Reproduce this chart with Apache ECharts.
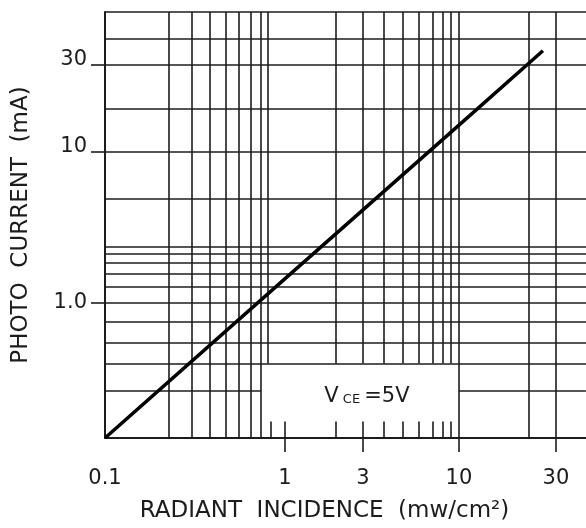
<!DOCTYPE html>
<html><head><meta charset="utf-8">
<script src="https://cdn.jsdelivr.net/npm/echarts@6/dist/echarts.min.js"></script>
<style>html,body{margin:0;padding:0;background:#fff}#c{width:586px;height:528px}</style>
</head><body><div id="c"></div>
<script>
// ---- axis ranges ----
const xMin = 0.1, xMax = 52.2;
const yMin = 0.1265, yMax = 84.3;

// ---- photo current curve (mA vs mw/cm²) ----
const curveX = [0.1, 1, 10, 29.8];
const curveY = [0.1265, 1.38, 15.0, 46.7];

// ---- tick labels ----
const xLabelValues = [0.1, 1.04, 2.87, 10, 35.3];
const xLabelTexts = ['0.1', '1', '3', '10', '30'];
const yLabelValues = [1, 10, 37.7];
const yLabelTexts = ['1.0', '10', '30'];
const yLabelRaised = [false, true, true];

// ---- grid lines (values where the printed lines sit) ----
const xGridFull = [0.230, 0.306, 0.392, 0.483, 0.571, 0.668, 0.761, 10, 24.9, 35.3];
const xGridUpper = [0.834, 2.02, 2.87, 3.77, 4.83, 5.94, 7.13, 8.12, 9.01];
const yGridFull = [56.1, 37.7, 19.2, 10, 4.84, 2.34, 2.11, 1.84, 1.56, 1.27, 1, 0.746, 0.541, 0.394];
const yGridSplit = [0.262];
const boxX = [0.761, 10];      // gap of the split line
const boxTop = 0.394;           // top of the blank legend box
const xBoxTicks = [0.866, 1.04, 2.02, 2.87, 3.77, 4.83, 5.94, 7.13, 8.12, 9.01];
const boxTickTop = 0.1625;
const xOuterTicks = [1.04, 2.87, 10, 35.3];
const noteText = { x: 3.02, y: 0.237 };

const FONT = 'DejaVu Sans';
const ink = '#1c1c1c';

function nearestIndex(list, v) {
  let b = 0, d = 1e9;
  list.forEach((t, i) => { const e = Math.abs(Math.log(t) - Math.log(v)); if (e < d) { d = e; b = i; } });
  return b;
}

const ml = [];
ml.push({ yAxis: yMax * 0.9995 });
yGridFull.forEach(v => ml.push({ yAxis: v }));
xGridFull.forEach(v => ml.push({ xAxis: v }));
xGridUpper.forEach(v => ml.push([{ coord: [v, boxTop] }, { coord: [v, yMax * 0.9995] }]));
yGridSplit.forEach(v => {
  ml.push([{ coord: [xMin * 1.0005, v] }, { coord: [boxX[0], v] }]);
  ml.push([{ coord: [boxX[1], v] }, { coord: [xMax * 0.9995, v] }]);
});
xBoxTicks.forEach(v => ml.push([{ coord: [v, yMin * 1.0005] }, { coord: [v, boxTickTop] }]));

const chart = echarts.init(document.getElementById('c'), null, { renderer: 'canvas' });
chart.setOption({
  animation: false,
  backgroundColor: '#fff',
  grid: { left: 105, right: 0, top: 12, bottom: 86, containLabel: false },
  xAxis: {
    type: 'log', logBase: 10, min: xMin, max: xMax,
    name: 'RADIANT  INCIDENCE  (mw/cm²)',
    nameLocation: 'middle', nameGap: 62,
    nameTextStyle: { fontFamily: FONT, fontSize: 23, color: ink, padding: [0, 42, 0, 0] },
    axisLine: { lineStyle: { color: ink, width: 2 } },
    axisTick: { show: true, inside: false, length: 14, customValues: xOuterTicks, lineStyle: { color: ink, width: 1.6 } },
    axisLabel: {
      customValues: xLabelValues, margin: 30, fontFamily: FONT, fontSize: 21, color: ink,
      formatter: v => xLabelTexts[nearestIndex(xLabelValues, v)]
    },
    splitLine: { show: false }, minorTick: { show: false }
  },
  yAxis: {
    type: 'log', logBase: 10, min: yMin, max: yMax,
    name: 'PHOTO  CURRENT  (mA)',
    nameLocation: 'middle', nameGap: 72,
    nameTextStyle: { fontFamily: FONT, fontSize: 23, color: ink },
    axisLine: { lineStyle: { color: ink, width: 2 } },
    axisTick: { show: true, inside: false, length: 14, customValues: yLabelValues, lineStyle: { color: ink, width: 1.6 } },
    axisLabel: {
      customValues: yLabelValues, margin: 18, fontFamily: FONT, fontSize: 21, color: ink,
      formatter: v => { const i = nearestIndex(yLabelValues, v); return (yLabelRaised[i] ? '{up|' : '{mid|') + yLabelTexts[i] + '}'; },
      rich: {
        up: { fontFamily: FONT, fontSize: 21, color: ink, padding: [0, 0, 10, 0] },
        mid: { fontFamily: FONT, fontSize: 21, color: ink }
      }
    },
    splitLine: { show: false }, minorTick: { show: false }
  },
  series: [{
    type: 'line',
    data: curveX.map((x, i) => [x, curveY[i]]),
    symbol: 'none',
    lineStyle: { color: '#000', width: 3.5 },
    silent: true,
    z: 5,
    markLine: {
      silent: true, symbol: 'none', animation: false,
      label: { show: false },
      emphasis: { disabled: true },
      lineStyle: { color: ink, width: 1.6, type: 'solid' },
      data: ml
    },
    markPoint: {
      silent: true, symbol: 'circle', symbolSize: 0,
      label: {
        show: true, position: 'inside',
        formatter: '{a|V}{b| CE }{a|=5V}',
        rich: {
          a: { fontFamily: FONT, fontSize: 21, color: ink, verticalAlign: 'bottom' },
          b: { fontFamily: FONT, fontSize: 13, color: ink, verticalAlign: 'bottom', padding: [0, 0, 1, 0] }
        }
      },
      data: [{ coord: [noteText.x, noteText.y] }]
    }
  }]
});
</script></body></html>
